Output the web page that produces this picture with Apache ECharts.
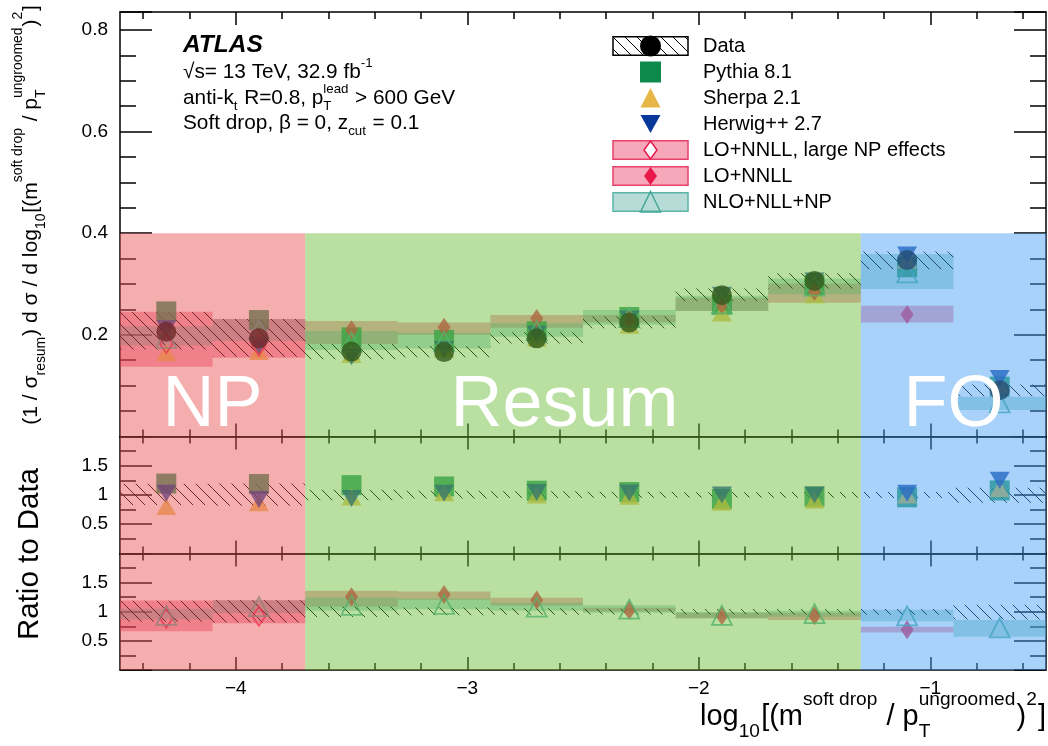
<!DOCTYPE html>
<html><head><meta charset="utf-8">
<script src="https://cdn.jsdelivr.net/npm/echarts@6/dist/echarts.min.js"></script>
<style>html,body{margin:0;padding:0;background:#fff}#c{width:1048px;height:746px}</style>
</head><body><div id="c"></div>
<script>
// ================= DATA =================
const binEdges   = [-4.5,-4.1,-3.7,-3.3,-2.9,-2.5,-2.1,-1.7,-1.3,-0.9,-0.5];
const binCenters = [-4.3,-3.9,-3.5,-3.1,-2.7,-2.3,-1.9,-1.5,-1.1,-0.7];

const dataVal = [0.206,0.193,0.167,0.166,0.193,0.224,0.278,0.306,0.347,0.091];
const dataLo  = [0.171,0.157,0.152,0.156,0.183,0.213,0.266,0.291,0.329,0.079];
const dataHi  = [0.245,0.231,0.182,0.178,0.205,0.236,0.291,0.321,0.364,0.102];

const pythiaVal = [0.246,0.229,0.195,0.190,0.207,0.235,0.259,0.298,0.333,0.098];
const sherpaVal = [0.165,0.167,0.161,0.172,0.193,0.219,0.243,0.279,0.347,0.101];
const herwigVal = [0.212,0.178,0.157,0.171,0.201,0.231,0.278,0.306,0.357,0.114];

const loNpVal = [0.183,0.178,null,null,null,null,null,null,null,null];
const loNpLo  = [0.137,0.155,null,null,null,null,null,null,null,null];
const loNpHi  = [0.2455,0.231,null,null,null,null,null,null,null,null];

const loVal = [null,null,0.210,0.215,0.232,0.230,0.259,0.285,0.240,null];
const loLo  = [null,null,0.182,0.200,0.214,0.2245,0.247,0.263,0.224,null];
const loHi  = [null,null,0.227,0.224,0.239,0.239,0.273,0.301,0.257,null];

const nloVal = [0.193,0.210,0.185,0.187,0.208,0.234,0.261,0.296,0.322,0.066];
const nloLo  = [0.179,0.188,0.170,0.173,0.196,0.220,0.247,0.280,0.290,0.052];
const nloHi  = [0.217,0.231,0.2075,0.204,0.2225,0.249,0.277,0.311,0.359,0.078];

const regionNames = ['NP','Resum','FO'];
const regionEdges = [[-4.5,-3.7],[-3.7,-1.3],[-1.3,-0.5]];

const xMajorTicks = [-4,-3,-2,-1];
const xMinorTicks = [-4.4,-4.2,-3.8,-3.6,-3.4,-3.2,-2.8,-2.6,-2.4,-2.2,-1.8,-1.6,-1.4,-1.2,-0.8,-0.6];
const xTickLabels = [-4,-3,-2,-1];
const yTickLabelsTop = [0.2,0.4,0.6,0.8];
const yTickLabelsRatio = [0.5,1,1.5];

const legendLabels = ['Data','Pythia 8.1','Sherpa 2.1','Herwig++ 2.7','LO+NNLL, large NP effects','LO+NNLL','NLO+NLL+NP'];

// ================= LAYOUT / STYLE =================
const FONT = '"Liberation Sans", Arial, Helvetica, sans-serif';
const GRIDS = [
  {left:120, width:926, top:12,    height:424.4},
  {left:120, width:926, top:436.4, height:117.1},
  {left:120, width:926, top:553.5, height:116.5}
];
const Y_RANGES = [
  {min:0, max:0.8354, interval:0.2, minor:4, labels:yTickLabelsTop},
  {min:0, max:2, interval:0.5, minor:2, labels:yTickLabelsRatio},
  {min:0, max:2, interval:0.5, minor:2, labels:yTickLabelsRatio}
];
const REGION_TOP = [0.4, 2, 2];
const REGION_COLORS = ['rgba(234,86,86,0.48)','rgba(108,191,58,0.48)','rgba(73,160,244,0.48)'];
const REGION_LABEL_X = [-4.1, -2.58, -0.9];
const REGION_LABEL_Y = 0.06;
const COL = {
  pythia:'#0d8a4b', sherpa:'#e6b646', herwig:'#08389a',
  lo:'#e8194a', loBand:'rgba(232,25,74,0.38)', loEdge:'#e8406a',
  nlo:'#44a898', nloBand:'rgba(74,168,154,0.40)', nloEdge:'#5ab4a8'
};

function makeHatch() {
  const c = document.createElement('canvas'); c.width = 12; c.height = 12;
  const g = c.getContext('2d'); g.strokeStyle = '#000'; g.lineWidth = 1;
  g.beginPath();
  g.moveTo(-1,-1); g.lineTo(13,13);
  g.moveTo(-1,11); g.lineTo(1,13);
  g.moveTo(11,-1); g.lineTo(13,1);
  g.stroke();
  return {image: c, repeat: 'repeat'};
}
const HATCH = makeHatch();

// ================= AXES =================
const xAxes = [], yAxes = [];
const lineStyle = {color:'#000', width:1.5};
GRIDS.forEach((g, gi) => {
  ['bottom','top'].forEach(pos => {
    [['major', xMajorTicks, 13], ['minor', xMinorTicks, 7]].forEach(([kind, vals, len]) => {
      xAxes.push({
        type:'value', gridIndex:gi, position:pos, min:-4.5, max:-0.5,
        axisLine:{show: kind === 'major', onZero:false, lineStyle},
        axisTick:{show:true, inside:true, length:len, customValues:vals, lineStyle},
        axisLabel:{show: gi === 2 && pos === 'bottom' && kind === 'major', customValues:xTickLabels,
          formatter: v => (v < 0 ? '\u2212' + Math.abs(v) : String(v)),
          fontSize:19, fontFamily:FONT, color:'#000', margin:9},
        splitLine:{show:false}
      });
    });
  });
  const r = Y_RANGES[gi];
  ['left','right'].forEach(pos => {
    yAxes.push({
      type:'value', gridIndex:gi, position:pos, min:r.min, max:r.max, interval:r.interval,
      axisLine:{show:true, onZero:false, lineStyle},
      axisTick:{show:true, inside:true, length:32, lineStyle},
      minorTick:{show:true, splitNumber:r.minor, length:16, lineStyle},
      axisLabel:{show: pos === 'left', fontSize:19, fontFamily:FONT, color:'#000', margin:12,
        formatter: v => r.labels.some(l => Math.abs(l - v) < 1e-6) ? String(+(+v).toFixed(2)) : ''},
      splitLine:{show:false}, minorSplitLine:{show:false}
    });
  });
});
const XI = gi => gi * 4, YI = gi => gi * 2;

// ================= SERIES =================
function bandSeries(name, gi, lo, hi, fill, z, denom) {
  const data = [];
  lo.forEach((l, i) => {
    if (l == null) return;
    const d = denom ? denom[i] : 1;
    data.push([binEdges[i], binEdges[i + 1], l / d, hi[i] / d]);
  });
  return {
    type:'custom', name, xAxisIndex:XI(gi), yAxisIndex:YI(gi), z, silent:true,
    encode:{x:[0,1], y:[2,3]}, data,
    renderItem(params, api) {
      const a = api.coord([api.value(0), api.value(3)]);
      const b = api.coord([api.value(1), api.value(2)]);
      return {type:'rect', shape:{x:a[0], y:a[1], width:b[0] - a[0], height:b[1] - a[1]}, style:{fill}};
    }
  };
}
function markerSeries(name, gi, vals, denom, sym, z) {
  const data = [];
  vals.forEach((v, i) => { if (v != null) data.push([binCenters[i], denom ? v / denom[i] : v]); });
  return Object.assign({type:'scatter', name, xAxisIndex:XI(gi), yAxisIndex:YI(gi), data, z, silent:true}, sym);
}
function overlaySeries(gi) {
  return {
    type:'custom', name:'regions' + gi, xAxisIndex:XI(gi), yAxisIndex:YI(gi), z:8, silent:true,
    encode:{x:[0,1], y:[2,3]},
    data: regionEdges.map(e => [e[0], e[1], 0, REGION_TOP[gi]]),
    renderItem(params, api) {
      const a = api.coord([api.value(0), api.value(3)]);
      const b = api.coord([api.value(1), api.value(2)]);
      const children = [{type:'rect', shape:{x:a[0], y:a[1], width:b[0] - a[0], height:b[1] - a[1]},
        style:{fill:REGION_COLORS[params.dataIndex]}}];
      if (gi === 0) {
        const p = api.coord([REGION_LABEL_X[params.dataIndex], REGION_LABEL_Y]);
        children.push({type:'text', x:p[0], y:p[1], z2:10, style:{text:regionNames[params.dataIndex],
          font:'72px ' + FONT, fill:'#fff', textAlign:'center', align:'center',
          textVerticalAlign:'middle', verticalAlign:'middle'}});
      }
      return {type:'group', children};
    }
  };
}

const SYM = {
  data:{symbol:'circle', symbolSize:20, itemStyle:{color:'#000'}},
  pythia:{symbol:'rect', symbolSize:20, itemStyle:{color:COL.pythia}},
  sherpa:{symbol:'triangle', symbolSize:[20,17], itemStyle:{color:COL.sherpa}},
  herwig:{symbol:'triangle', symbolSize:[20,17], symbolRotate:180, itemStyle:{color:COL.herwig}},
  loNp:{symbol:'diamond', symbolSize:[13,19], itemStyle:{color:'rgba(0,0,0,0)', borderColor:COL.lo, borderWidth:1.8}},
  lo:{symbol:'diamond', symbolSize:[13,19], itemStyle:{color:COL.lo}},
  nlo:{symbol:'triangle', symbolSize:[20,19], itemStyle:{color:'rgba(0,0,0,0)', borderColor:COL.nlo, borderWidth:1.8}}
};

const series = [
  // panel 1
  bandSeries('LO+NNLL, large NP effects', 0, loNpLo, loNpHi, COL.loBand, 1),
  bandSeries('LO+NNLL', 0, loLo, loHi, COL.loBand, 1),
  bandSeries('NLO+NLL+NP', 0, nloLo, nloHi, COL.nloBand, 2),
  bandSeries('Data uncertainty', 0, dataLo, dataHi, HATCH, 3),
  markerSeries('Pythia 8.1', 0, pythiaVal, null, SYM.pythia, 4),
  markerSeries('Sherpa 2.1', 0, sherpaVal, null, SYM.sherpa, 4),
  markerSeries('Herwig++ 2.7', 0, herwigVal, null, SYM.herwig, 4),
  markerSeries('LO+NNLL, large NP effects', 0, loNpVal, null, SYM.loNp, 5),
  markerSeries('LO+NNLL', 0, loVal, null, SYM.lo, 5),
  markerSeries('NLO+NLL+NP', 0, nloVal, null, SYM.nlo, 5),
  markerSeries('Data', 0, dataVal, null, SYM.data, 6),
  overlaySeries(0),
  // panel 2: MC / data
  bandSeries('Data uncertainty', 1, dataLo, dataHi, HATCH, 3, dataVal),
  markerSeries('Pythia 8.1', 1, pythiaVal, dataVal, SYM.pythia, 4),
  markerSeries('Sherpa 2.1', 1, sherpaVal, dataVal, SYM.sherpa, 4),
  markerSeries('Herwig++ 2.7', 1, herwigVal, dataVal, SYM.herwig, 4),
  overlaySeries(1),
  // panel 3: theory / data
  bandSeries('LO+NNLL, large NP effects', 2, loNpLo, loNpHi, COL.loBand, 1, dataVal),
  bandSeries('LO+NNLL', 2, loLo, loHi, COL.loBand, 1, dataVal),
  bandSeries('NLO+NLL+NP', 2, nloLo, nloHi, COL.nloBand, 2, dataVal),
  bandSeries('Data uncertainty', 2, dataLo, dataHi, HATCH, 3, dataVal),
  markerSeries('LO+NNLL, large NP effects', 2, loNpVal, dataVal, SYM.loNp, 5),
  markerSeries('LO+NNLL', 2, loVal, dataVal, SYM.lo, 5),
  markerSeries('NLO+NLL+NP', 2, nloVal, dataVal, SYM.nlo, 5),
  overlaySeries(2)
];

// ================= TEXT HELPERS =================
const mctx = document.createElement('canvas').getContext('2d');
function tw(s, size, pre) { mctx.font = (pre || '') + ' ' + size + 'px ' + FONT; return mctx.measureText(s).width; }
function mathItems(tokens, base, o) {
  const small = base * o.ratio; let x = 0; const items = [];
  tokens.forEach(t => {
    if (typeof t === 'string') { items.push({s:t, x, dy:0, size:base}); x += tw(t, base); }
    else {
      let w = 0;
      if (t.sup) { items.push({s:t.sup, x, dy:-o.sup * base, size:small}); w = Math.max(w, tw(t.sup, small)); }
      if (t.sub) { items.push({s:t.sub, x, dy:o.sub * base, size:small}); w = Math.max(w, tw(t.sub, small)); }
      x += w + 0.04 * base;
    }
  });
  return {items, width:x};
}
function mathGroup(tokens, o) {
  let base = o.base;
  if (o.fit) base = 100 * o.fit / mathItems(tokens, 100, o).width;
  const m = mathItems(tokens, base, o);
  const off = o.align === 'right' ? -m.width : (o.align === 'center' ? -m.width / 2 : 0);
  return {type:'group', x:o.x, y:o.y, rotation:o.rotation || 0,
    children: m.items.map(it => ({type:'text', x:it.x + off, y:it.dy,
      style:{text:it.s, font:it.size + 'px ' + FONT, fill:'#000', textAlign:'left', align:'left',
        textVerticalAlign:'middle', verticalAlign:'middle'}}))};
}

// ================= GRAPHIC (legend, labels, titles) =================
const G = [];
// ATLAS label block
G.push({type:'text', x:183, y:45, style:{text:'ATLAS', font:'italic bold 24.5px ' + FONT, fill:'#000',
  textVerticalAlign:'middle', verticalAlign:'middle'}});
const INFO = {base:20.8, ratio:0.64, sup:0.42, sub:0.38};
G.push(mathGroup(['\u221As= 13 TeV, 32.9 fb', {sup:'-1'}], Object.assign({x:183, y:72}, INFO)));
G.push(mathGroup(['anti-k', {sub:'t'}, ' R=0.8, p', {sub:'T', sup:'lead'}, ' > 600 GeV'], Object.assign({x:183, y:98}, INFO)));
G.push(mathGroup(['Soft drop, \u03B2 = 0, z', {sub:'cut'}, ' = 0.1'], Object.assign({x:183, y:123}, INFO)));

// legend
const LEG_X = 613, LEG_W = 75, LEG_H = 18.5, LEG_Y0 = 46, LEG_DY = 26, LEG_TX = 703;
const MX = LEG_X + LEG_W / 2;
legendLabels.forEach((lab, i) => {
  const yc = LEG_Y0 + i * LEG_DY;
  const box = (fill, stroke) => G.push({type:'rect', shape:{x:LEG_X, y:yc - LEG_H / 2, width:LEG_W, height:LEG_H},
    style:{fill, stroke, lineWidth:1.5}});
  if (i === 0) { box(HATCH, '#000'); G.push({type:'circle', shape:{cx:MX, cy:yc, r:10.5}, style:{fill:'#000'}}); }
  if (i === 1) G.push({type:'rect', shape:{x:MX - 10.5, y:yc - 10.5, width:21, height:21}, style:{fill:COL.pythia}});
  if (i === 2) G.push({type:'polygon', shape:{points:[[MX - 10, yc + 9.5],[MX + 10, yc + 9.5],[MX, yc - 10]]}, style:{fill:COL.sherpa}});
  if (i === 3) G.push({type:'polygon', shape:{points:[[MX - 10, yc - 9],[MX + 10, yc - 9],[MX, yc + 9]]}, style:{fill:COL.herwig}});
  if (i === 4) { box(COL.loBand, COL.loEdge);
    G.push({type:'polygon', shape:{points:[[MX, yc - 9],[MX + 6.5, yc],[MX, yc + 9],[MX - 6.5, yc]]}, style:{fill:'#fff', stroke:COL.lo, lineWidth:1.5}}); }
  if (i === 5) { box(COL.loBand, COL.loEdge);
    G.push({type:'polygon', shape:{points:[[MX, yc - 9],[MX + 6.5, yc],[MX, yc + 9],[MX - 6.5, yc]]}, style:{fill:COL.lo}}); }
  if (i === 6) { box(COL.nloBand, COL.nloEdge);
    G.push({type:'polygon', shape:{points:[[MX - 10, yc + 10],[MX + 10, yc + 10],[MX, yc - 10.5]]}, style:{fill:'none', stroke:COL.nlo, lineWidth:1.5}}); }
  G.push({type:'text', x:LEG_TX, y:yc, style:{text:lab, font:'20px ' + FONT, fill:'#000',
    textVerticalAlign:'middle', verticalAlign:'middle'}});
});

// axis titles
const TITLE = {ratio:0.66, sup:0.6, sub:0.5};
G.push(mathGroup(['(1 / \u03C3', {sub:'resum'}, ') d \u03C3 / d log', {sub:'10'}, '[(m', {sup:'soft drop'}, ' / p', {sub:'T', sup:'ungroomed'}, ')', {sup:'2'}, ']'],
  Object.assign({fit:420, x:31, y:215, rotation:Math.PI / 2, align:'center'}, TITLE)));
G.push(mathGroup(['log', {sub:'10'}, '[(m', {sup:'soft drop'}, ' / p', {sub:'T', sup:'ungroomed'}, ')', {sup:'2'}, ']'],
  Object.assign({fit:346, x:1046, y:717, align:'right'}, TITLE)));
G.push(mathGroup(['Ratio to Data'], {fit:172, ratio:0.66, sup:0.6, sub:0.5, x:30, y:554, rotation:Math.PI / 2, align:'center'}));

// ================= CHART =================
const chart = echarts.init(document.getElementById('c'), null, {renderer:'canvas'});
chart.setOption({
  animation:false,
  backgroundColor:'#fff',
  textStyle:{fontFamily:FONT},
  grid: GRIDS.map(g => Object.assign({outerBoundsMode:'none', containLabel:false}, g)),
  xAxis: xAxes,
  yAxis: yAxes,
  series,
  graphic:{elements:G}
});
</script></body></html>
